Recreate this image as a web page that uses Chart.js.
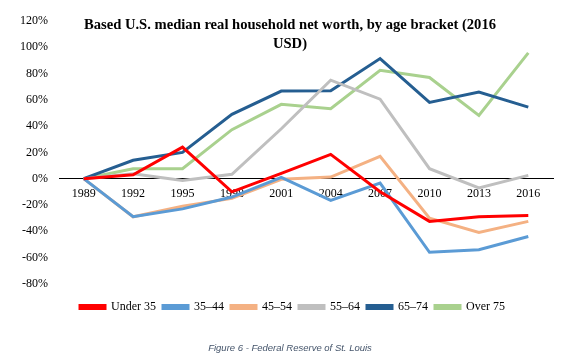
<!DOCTYPE html>
<html>
<head>
<meta charset="utf-8">
<script src="https://cdn.jsdelivr.net/npm/chart.js@4/dist/chart.umd.min.js"></script>
<style>
  body { margin: 0; background: #fff; }
  #wrap { position: relative; width: 587px; height: 363px; }
  #title {
    position: absolute; left: 70px; top: 15px; width: 440px;
    text-align: center; font: bold 14.6px 'Liberation Serif', serif; line-height: 19px; color: #000;
  }
  #caption {
    position: absolute; left: 0; top: 342px; width: 580px;
    text-align: center; font: italic 9.5px 'Liberation Sans', sans-serif; color: #44546A;
  }
</style>
</head>
<body>
<div id="wrap">
  <canvas id="chart" width="587" height="363"></canvas>
  <div id="title">Based U.S. median real household net worth, by age bracket (2016<br>USD)</div>
  <div id="caption">Figure 6 - Federal Reserve of St. Louis</div>
</div>
<script>
const years = ['1989', '1992', '1995', '1998', '2001', '2004', '2007', '2010', '2013', '2016'];

// percent change vs 1989
const under35 = [0, 3, 24, -10, 4, 18.5, -10, -32.5, -29, -28];
const age35to44 = [0, -29, -23, -14, 1, -16.5, -3.3, -56, -54, -44];
const age45to54 = [0, -29, -21, -15, -0.5, 1.2, 17, -30, -41, -32.5];
const age55to64 = [0, 3.8, -1.3, 3.3, 38, 75, 60.5, 7.6, -7, 2.5];
const age65to74 = [0, 14, 20, 49, 66.7, 67, 91.4, 58, 66, 54.5];
const over75 = [0, 7.6, 7.6, 37.3, 56.6, 53.3, 82.5, 77, 48.2, 95.7];

const seriesNames = ['Under 35', '35\u201344', '45\u201354', '55\u201364', '65\u201374', 'Over 75'];
const seriesValues = [under35, age35to44, age45to54, age55to64, age65to74, over75];
const colors = ['#FF0000', '#5B9BD5', '#F4B183', '#BFBFBF', '#255E91', '#A9D18E'];

const yTicks = [-80, -60, -40, -20, 0, 20, 40, 60, 80, 100, 120];

const serif = "'Liberation Serif', serif";

new Chart(document.getElementById('chart'), {
    type: 'line',
    data: {
        labels: years,
        datasets: seriesNames.map((name, i) => ({
            label: name,
            data: seriesValues[i],
            borderColor: colors[i],
            backgroundColor: colors[i],
            borderWidth: 3,
            pointRadius: 0,
            tension: 0,
            fill: false
        }))
    },
    options: {
        responsive: false,
        animation: false,
        layout: {
            padding: { left: 0, right: 2, top: 21, bottom: 40 }
        },
        scales: {
            x: {
                type: 'category',
                offset: true,
                position: { y: 0 },
                grid: { display: false, drawTicks: false },
                border: { display: true, color: '#000', width: 1 },
                ticks: {
                    color: '#000',
                    font: { family: serif, size: 12 },
                    padding: 8,
                    maxRotation: 0,
                    autoSkip: false
                }
            },
            y: {
                min: yTicks[0],
                max: yTicks[yTicks.length - 1],
                afterFit: (scale) => { scale.width = 59; },
                afterBuildTicks: (scale) => { scale.ticks = yTicks.map(v => ({ value: v })); },
                grid: { display: false, drawTicks: false },
                border: { display: false },
                ticks: {
                    color: '#000',
                    font: { family: serif, size: 12 },
                    padding: 11,
                    callback: (v) => v + '%'
                }
            },
            // empty right gutter so the legend centres on the whole width
            gutter: {
                position: 'right',
                afterFit: (scale) => { scale.width = 32; },
                grid: { display: false, drawTicks: false },
                border: { display: false },
                ticks: { display: false }
            }
        },
        plugins: {
            title: { display: false },
            tooltip: { enabled: false },
            legend: {
                position: 'bottom',
                title: { display: true, text: ' ', font: { size: 1 }, padding: { top: 9, bottom: 0 } },
                labels: {
                    boxWidth: 25,
                    boxHeight: 3,
                    padding: 7,
                    color: '#000',
                    font: { family: serif, size: 12 }
                }
            }
        }
    }
});
</script>
</body>
</html>
